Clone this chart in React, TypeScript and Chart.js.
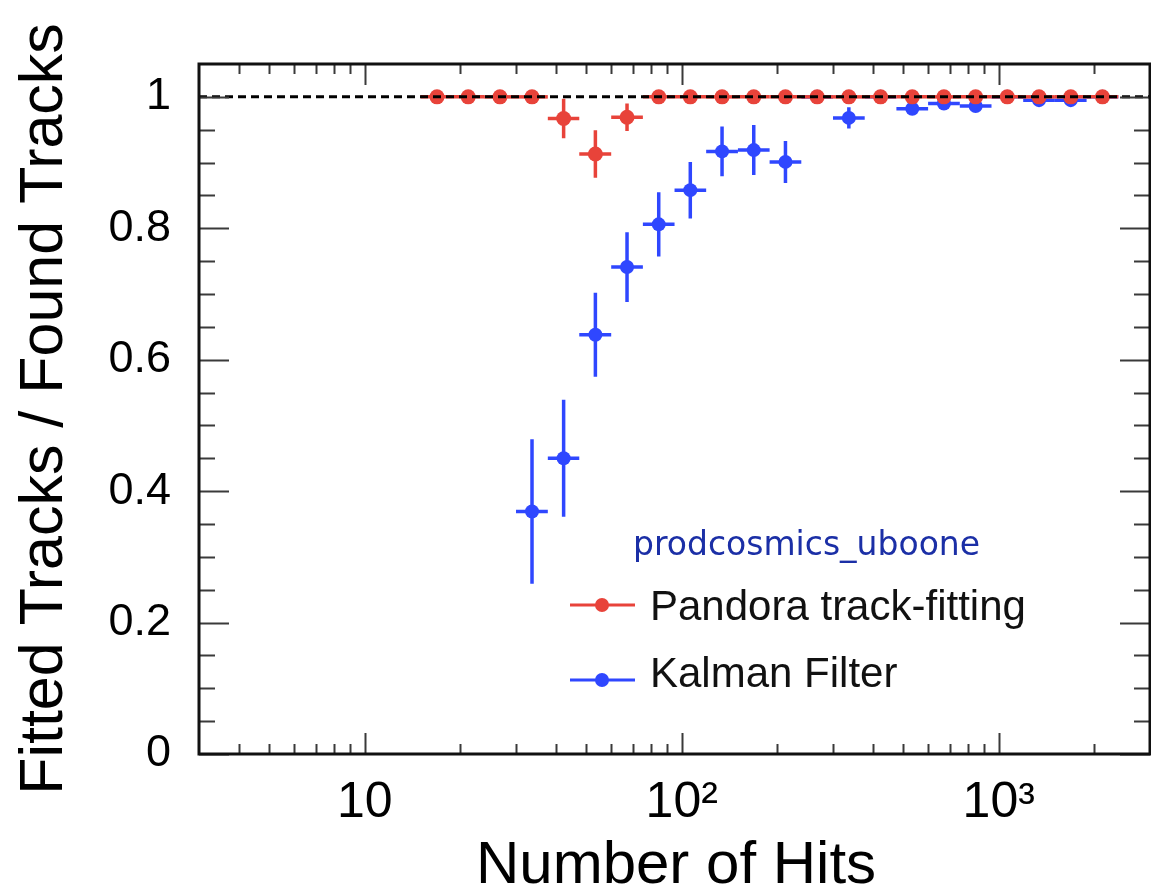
import React, { useEffect, useRef } from 'react';
import { Chart, registerables } from 'chart.js';

Chart.register(...registerables);

// ---- data ----
const binEdges = [15.0, 18.9, 23.8, 30.0, 37.8, 47.5, 59.9, 75.4, 94.9, 119.4, 150.4, 189.3, 238.3, 300.0, 377.7, 475.5, 598.6, 753.6, 948.7, 1194.3, 1503.5, 1892.8, 2383.0];
const binCenters = [16.9, 21.2, 26.7, 33.7, 42.4, 53.4, 67.2, 84.6, 106.4, 134.0, 168.7, 212.4, 267.4, 336.6, 423.8, 533.5, 671.6, 845.5, 1064, 1340, 1687, 2124];

const pandoraEff = [1, 1, 1, 1, 0.967, 0.913, 0.969, 1, 1, 1, 1, 1, 1, 1, 1, 1, 1, 1, 1, 1, 1, 1];
const pandoraErr = [0, 0, 0, 0, 0.030, 0.036, 0.021, 0, 0, 0, 0, 0, 0, 0, 0, 0, 0, 0, 0, 0, 0, 0];

const kalmanEff = [null, null, null, 0.369, 0.450, 0.638, 0.741, 0.806, 0.858, 0.917, 0.919, 0.901, 1, 0.968, 1, 0.982, 0.990, 0.986, 1, 0.995, 0.995, 1];
const kalmanErr = [0, 0, 0, 0.11, 0.089, 0.064, 0.053, 0.049, 0.043, 0.038, 0.038, 0.032, 0, 0.016, 0, 0.006, 0.005, 0.006, 0, 0.004, 0.004, 0];

const xTickValues = [4, 5, 6, 7, 8, 9, 10, 20, 30, 40, 50, 60, 70, 80, 90, 100, 200, 300, 400, 500, 600, 700, 800, 900, 1000, 2000];
const xMajorValues = [10, 100, 1000];
const xMajorLabels = ['10', '10²', '10³'];

const yTickValues = [0, 0.05, 0.1, 0.15, 0.2, 0.25, 0.3, 0.35, 0.4, 0.45, 0.5, 0.55, 0.6, 0.65, 0.7, 0.75, 0.8, 0.85, 0.9, 0.95, 1.0];
const yMajorValues = [0, 0.2, 0.4, 0.6, 0.8, 1];
const yMajorLabels = ['0', '0.2', '0.4', '0.6', '0.8', '1'];

const seriesNames = ['Pandora track-fitting', 'Kalman Filter'];
const legendHeader = 'prodcosmics_uboone';
const xTitle = 'Number of Hits';
const yTitle = 'Fitted Tracks / Found Tracks';

const RED = '#e8433a';
const BLUE = '#2f47ff';
const FONT = '"Liberation Sans", Arial, Helvetica, sans-serif';

const findLabel = (vals: number[], labels: string[], v: number) => {
  const i = vals.findIndex((m) => Math.abs(m - v) < 1e-6);
  return i >= 0 ? labels[i] : '';
};

const rootPlugin = {
  id: 'rootStyle',
  beforeDatasetDraw(chart: any, args: any) {
    const ds: any = chart.data.datasets[args.index];
    if (!ds.errY) return;
    const { ctx, chartArea: a, scales } = chart;
    const xs = scales.x;
    const ys = scales.y;
    ctx.save();
    ctx.beginPath();
    ctx.rect(a.left, a.top, a.right - a.left, a.bottom - a.top);
    ctx.clip();
    ctx.strokeStyle = ds.borderColor;
    ctx.lineWidth = 3.5;
    ds.values.forEach((v: number | null, i: number) => {
      if (v == null) return;
      const px = xs.getPixelForValue(binCenters[i]);
      const py = ys.getPixelForValue(v);
      ctx.beginPath();
      ctx.moveTo(xs.getPixelForValue(binEdges[i]), py);
      ctx.lineTo(xs.getPixelForValue(binEdges[i + 1]), py);
      const e = ds.errY[i];
      if (e > 0) {
        ctx.moveTo(px, ys.getPixelForValue(v + e));
        ctx.lineTo(px, ys.getPixelForValue(v - e));
      }
      ctx.stroke();
    });
    ctx.restore();
  },
  afterDraw(chart: any) {
    const { ctx, chartArea: a, scales } = chart;
    const xs = scales.x;
    const ys = scales.y;
    ctx.save();
    // inward ticks on all four sides
    ctx.strokeStyle = '#3a3a3a';
    ctx.lineWidth = 2;
    ctx.beginPath();
    xs.ticks.forEach((t: any) => {
      const px = Math.round(xs.getPixelForValue(t.value)) + 0.5;
      const major = xMajorValues.includes(t.value);
      const len = major ? 21 : 10;
      ctx.moveTo(px, a.bottom);
      ctx.lineTo(px, a.bottom - len);
      ctx.moveTo(px, a.top);
      ctx.lineTo(px, a.top + len);
    });
    ys.ticks.forEach((t: any) => {
      const py = Math.round(ys.getPixelForValue(t.value)) + 0.5;
      const major = findLabel(yMajorValues, yMajorLabels, t.value) !== '';
      const len = major ? 30 : 16;
      ctx.moveTo(a.left, py);
      ctx.lineTo(a.left + len, py);
      ctx.moveTo(a.right, py);
      ctx.lineTo(a.right - len, py);
    });
    ctx.stroke();
    // frame
    ctx.strokeStyle = '#111';
    ctx.lineWidth = 3;
    ctx.strokeRect(a.left, a.top, a.right - a.left, a.bottom - a.top);

    // axis titles
    ctx.fillStyle = '#000';
    ctx.font = `60px ${FONT}`;
    ctx.textAlign = 'center';
    ctx.textBaseline = 'alphabetic';
    ctx.fillText(xTitle, 676, 883);
    ctx.save();
    ctx.translate(62, 409);
    ctx.rotate(-Math.PI / 2);
    ctx.font = `61px ${FONT}`;
    ctx.fillText(yTitle, 0, 0);
    ctx.restore();

    // legend
    ctx.textAlign = 'left';
    ctx.font = `33px "DejaVu Sans", ${FONT}`;
    ctx.fillStyle = '#1b2fa6';
    ctx.fillText(legendHeader, 633, 555);
    const entries = [
      { name: seriesNames[0], color: RED, y: 605, base: 620 },
      { name: seriesNames[1], color: BLUE, y: 680, base: 687 },
    ];
    entries.forEach((e) => {
      ctx.strokeStyle = e.color;
      ctx.lineWidth = 3;
      ctx.beginPath();
      ctx.moveTo(570, e.y);
      ctx.lineTo(635, e.y);
      ctx.stroke();
      ctx.fillStyle = e.color;
      ctx.beginPath();
      ctx.arc(602, e.y, 7, 0, Math.PI * 2);
      ctx.fill();
      ctx.fillStyle = '#111';
      ctx.font = `42px ${FONT}`;
      ctx.fillText(e.name, 650, e.base);
    });
    ctx.restore();
  },
};

export default function App() {
  const ref = useRef<HTMLCanvasElement | null>(null);
  useEffect(() => {
    if (!ref.current) return;
    const chart = new Chart(ref.current, {
      type: 'scatter',
      data: {
        datasets: [
          {
            label: 'reference',
            data: [{ x: 3, y: 1 }, { x: 3000, y: 1 }],
            showLine: true,
            borderColor: '#000',
            borderWidth: 3,
            borderDash: [8, 5],
            pointRadius: 0,
            order: 0,
          } as any,
          {
            label: seriesNames[0],
            data: binCenters.map((x, i) => ({ x, y: pandoraEff[i] })),
            values: pandoraEff,
            errY: pandoraErr,
            backgroundColor: RED,
            borderColor: RED,
            pointRadius: 7.5,
            pointBorderWidth: 0,
            showLine: false,
            order: 1,
          } as any,
          {
            label: seriesNames[1],
            data: binCenters.map((x, i) => ({ x, y: kalmanEff[i] })),
            values: kalmanEff,
            errY: kalmanErr,
            backgroundColor: BLUE,
            borderColor: BLUE,
            pointRadius: 7,
            pointBorderWidth: 0,
            showLine: false,
            order: 2,
          } as any,
        ],
      },
      options: {
        animation: false,
        responsive: false,
        devicePixelRatio: 1,
        events: [],
        layout: { autoPadding: false, padding: { top: 64, right: 1, left: 0, bottom: 0 } },
        plugins: { legend: { display: false }, tooltip: { enabled: false } },
        scales: {
          x: {
            type: 'logarithmic',
            position: 'bottom',
            min: 3,
            max: 3000,
            grid: { display: false },
            border: { display: false },
            afterBuildTicks: (scale: any) => {
              scale.ticks = xTickValues.map((v) => ({ value: v }));
            },
            afterFit: (scale: any) => {
              scale.height = 132;
              scale.paddingLeft = 0;
              scale.paddingRight = 0;
            },
            ticks: {
              autoSkip: false,
              maxRotation: 0,
              minRotation: 0,
              padding: 11,
              color: '#000',
              font: { size: 50, family: FONT },
              callback: (v: any) => findLabel(xMajorValues, xMajorLabels, Number(v)),
            },
          } as any,
          y: {
            type: 'linear',
            min: 0,
            max: 1.05,
            grid: { display: false },
            border: { display: false },
            afterBuildTicks: (scale: any) => {
              scale.ticks = yTickValues.map((v) => ({ value: v }));
            },
            afterFit: (scale: any) => {
              scale.width = 199;
              scale.paddingTop = 0;
              scale.paddingBottom = 0;
            },
            ticks: {
              autoSkip: false,
              padding: 20,
              color: '#000',
              font: { size: 45, family: FONT },
              callback: (v: any) => findLabel(yMajorValues, yMajorLabels, Number(v)),
            },
          } as any,
        },
      },
      plugins: [rootPlugin as any],
    });
    return () => chart.destroy();
  }, []);
  return (
    <div style={{ position: 'fixed', left: 0, top: 0, width: 1151, height: 886, background: '#fff' }}>
      <canvas ref={ref} width={1151} height={886} style={{ display: 'block' }} />
    </div>
  );
}
